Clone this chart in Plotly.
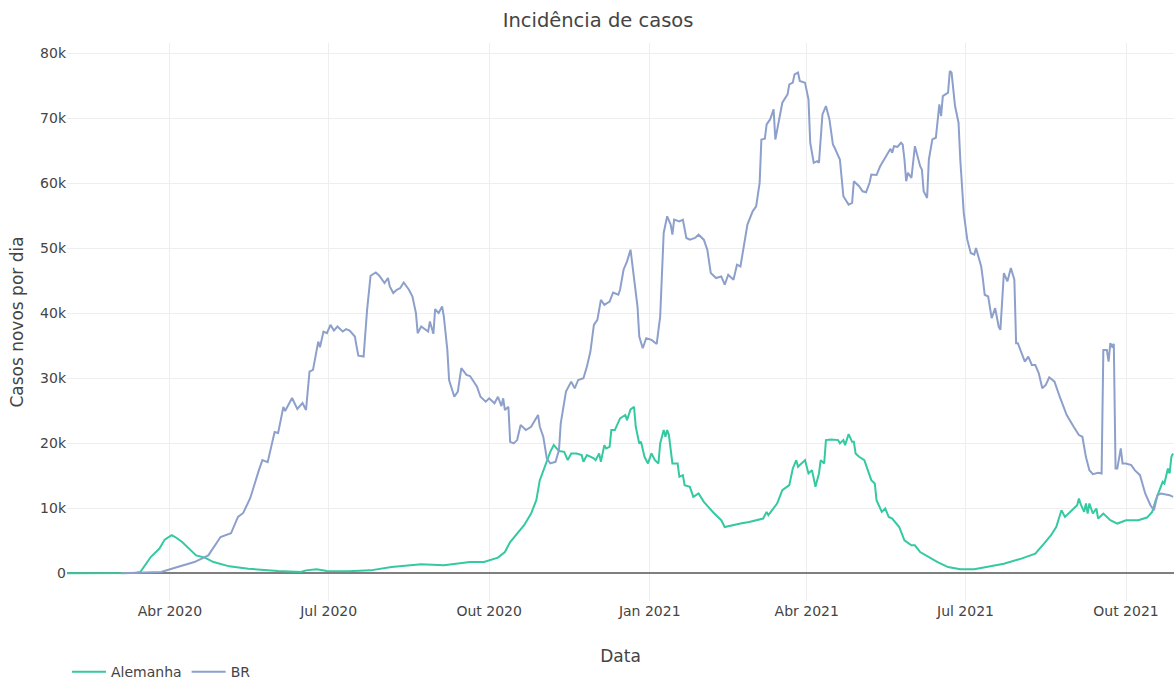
import plotly.graph_objects as go

# ---------------- data ----------------
de_dates = [
    "2020-02-02", "2020-03-12", "2020-03-15", "2020-03-21", "2020-03-26", "2020-03-29",
    "2020-04-02", "2020-04-04", "2020-04-08", "2020-04-12", "2020-04-16", "2020-04-21",
    "2020-04-26", "2020-05-05", "2020-05-16", "2020-06-02", "2020-06-15", "2020-06-18",
    "2020-06-24", "2020-06-30", "2020-07-12", "2020-07-25", "2020-08-06", "2020-08-23",
    "2020-09-05", "2020-09-20", "2020-09-28", "2020-10-06", "2020-10-10", "2020-10-13",
    "2020-10-17", "2020-10-21", "2020-10-25", "2020-10-28", "2020-10-30", "2020-11-01",
    "2020-11-03", "2020-11-05", "2020-11-07", "2020-11-08", "2020-11-10", "2020-11-13",
    "2020-11-15", "2020-11-17", "2020-11-20", "2020-11-23", "2020-11-24", "2020-11-26",
    "2020-11-30", "2020-12-01", "2020-12-03", "2020-12-04", "2020-12-06", "2020-12-07",
    "2020-12-09", "2020-12-10", "2020-12-12", "2020-12-15", "2020-12-18", "2020-12-19",
    "2020-12-21", "2020-12-23", "2020-12-24", "2020-12-26", "2020-12-27", "2020-12-29",
    "2020-12-31", "2021-01-02", "2021-01-04", "2021-01-06", "2021-01-07", "2021-01-09",
    "2021-01-10", "2021-01-11", "2021-01-12", "2021-01-14", "2021-01-17", "2021-01-18",
    "2021-01-20", "2021-01-21", "2021-01-24", "2021-01-26", "2021-01-29", "2021-02-01",
    "2021-02-05", "2021-02-07", "2021-02-11", "2021-02-13", "2021-02-22", "2021-02-27",
    "2021-03-07", "2021-03-09", "2021-03-10", "2021-03-15", "2021-03-18", "2021-03-22",
    "2021-03-24", "2021-03-26", "2021-03-27", "2021-03-31", "2021-04-02", "2021-04-04",
    "2021-04-06", "2021-04-08", "2021-04-09", "2021-04-11", "2021-04-12", "2021-04-15",
    "2021-04-19", "2021-04-20", "2021-04-22", "2021-04-23", "2021-04-25", "2021-04-27",
    "2021-04-28", "2021-04-29", "2021-05-01", "2021-05-04", "2021-05-06", "2021-05-08",
    "2021-05-10", "2021-05-11", "2021-05-14", "2021-05-16", "2021-05-18", "2021-05-20",
    "2021-05-24", "2021-05-27", "2021-05-31", "2021-06-02", "2021-06-05", "2021-06-15",
    "2021-06-21", "2021-06-28", "2021-07-06", "2021-07-23", "2021-08-02", "2021-08-10",
    "2021-08-15", "2021-08-19", "2021-08-22", "2021-08-24", "2021-08-25", "2021-08-27",
    "2021-09-03", "2021-09-04", "2021-09-05", "2021-09-07", "2021-09-08", "2021-09-09",
    "2021-09-10", "2021-09-12", "2021-09-14", "2021-09-15", "2021-09-18", "2021-09-22",
    "2021-09-26", "2021-10-01", "2021-10-08", "2021-10-13", "2021-10-16", "2021-10-18",
    "2021-10-20", "2021-10-22", "2021-10-23", "2021-10-25", "2021-10-26", "2021-10-27",
    "2021-10-28",
]
de_cases = [
    0, 50, 200, 2510, 3810, 5190,
    5860, 5590, 4820, 3810, 2770, 2420,
    1740, 1080, 720, 350, 200, 460,
    620, 350, 310, 460, 970, 1390,
    1230, 1740, 1740, 2420, 3280, 4820,
    6120, 7400, 9200, 11250, 14330, 15870,
    17100, 18690, 19720, 19460, 18800, 18690,
    17410, 18440, 18440, 18180, 17150, 18180,
    17670, 17410, 18440, 17150, 19720, 19210,
    19460, 22030, 22030, 23840, 24350, 23570,
    25220, 25620, 22540, 19980, 20230, 17920,
    16900, 18440, 17410, 16900, 19980, 22030,
    21000, 22030, 21260, 16900, 16900, 14840,
    15100, 13560, 13300, 11760, 12280, 10990,
    9710, 9200, 8170, 7130, 7660, 7900,
    8430, 9450, 8940, 10740, 12790, 13560,
    16130, 17410, 16380, 17410, 15360, 15870,
    13300, 15360, 17410, 16900, 20490, 20600,
    20490, 19980, 20490, 19720, 21420, 20230,
    20230, 18440, 17920, 17410, 15870, 14330,
    13820, 11250, 9450, 9970, 8670, 8430,
    7130, 5080, 4310, 4310, 3280, 1740,
    970, 620, 620, 1490, 2270, 3040,
    4580, 5860, 7130, 8940, 9710, 8670,
    10480, 11510, 10630, 9450, 10740, 9200,
    10740, 9200, 9970, 8430, 9200, 8170,
    7660, 8170, 8170, 8580, 9450, 11250,
    12790, 14070, 13820, 16130, 15360, 17920,
    18440,
]

br_dates = [
    "2020-03-04", "2020-03-27", "2020-04-02", "2020-04-15", "2020-04-23", "2020-04-30",
    "2020-05-06", "2020-05-10", "2020-05-13", "2020-05-17", "2020-05-22", "2020-05-24",
    "2020-05-27", "2020-05-31", "2020-06-02", "2020-06-05", "2020-06-06", "2020-06-10",
    "2020-06-13", "2020-06-16", "2020-06-18", "2020-06-20", "2020-06-22", "2020-06-25",
    "2020-06-26", "2020-06-28", "2020-06-30", "2020-07-02", "2020-07-04", "2020-07-06",
    "2020-07-09", "2020-07-11", "2020-07-13", "2020-07-16", "2020-07-17", "2020-07-18",
    "2020-07-21", "2020-07-23", "2020-07-25", "2020-07-28", "2020-07-30", "2020-08-02",
    "2020-08-04", "2020-08-05", "2020-08-07", "2020-08-09", "2020-08-11", "2020-08-13",
    "2020-08-16", "2020-08-18", "2020-08-20", "2020-08-21", "2020-08-23", "2020-08-27",
    "2020-08-28", "2020-08-30", "2020-08-31", "2020-09-02", "2020-09-04", "2020-09-05",
    "2020-09-07", "2020-09-08", "2020-09-11", "2020-09-13", "2020-09-15", "2020-09-18",
    "2020-09-20", "2020-09-24", "2020-09-26", "2020-09-29", "2020-10-01", "2020-10-04",
    "2020-10-06", "2020-10-08", "2020-10-09", "2020-10-10", "2020-10-12", "2020-10-13",
    "2020-10-15", "2020-10-17", "2020-10-19", "2020-10-22", "2020-10-25", "2020-10-29",
    "2020-10-30", "2020-11-01", "2020-11-03", "2020-11-05", "2020-11-08", "2020-11-10",
    "2020-11-11", "2020-11-14", "2020-11-17", "2020-11-19", "2020-11-21", "2020-11-24",
    "2020-11-26", "2020-11-28", "2020-11-30", "2020-12-02", "2020-12-04", "2020-12-06",
    "2020-12-09", "2020-12-11", "2020-12-14", "2020-12-15", "2020-12-17", "2020-12-19",
    "2020-12-21", "2020-12-23", "2020-12-25", "2020-12-26", "2020-12-28", "2020-12-30",
    "2021-01-02", "2021-01-05", "2021-01-07", "2021-01-09", "2021-01-11", "2021-01-13",
    "2021-01-14", "2021-01-15", "2021-01-18", "2021-01-20", "2021-01-22", "2021-01-24",
    "2021-01-27", "2021-01-29", "2021-02-01", "2021-02-03", "2021-02-05", "2021-02-08",
    "2021-02-11", "2021-02-13", "2021-02-15", "2021-02-18", "2021-02-20", "2021-02-22",
    "2021-02-24", "2021-02-26", "2021-03-01", "2021-03-03", "2021-03-05", "2021-03-06",
    "2021-03-08", "2021-03-09", "2021-03-11", "2021-03-13", "2021-03-14", "2021-03-16",
    "2021-03-18", "2021-03-21", "2021-03-22", "2021-03-24", "2021-03-25", "2021-03-27",
    "2021-03-28", "2021-03-31", "2021-04-02", "2021-04-03", "2021-04-05", "2021-04-07",
    "2021-04-08", "2021-04-10", "2021-04-12", "2021-04-14", "2021-04-16", "2021-04-17",
    "2021-04-19", "2021-04-20", "2021-04-22", "2021-04-25", "2021-04-27", "2021-04-28",
    "2021-05-01", "2021-05-03", "2021-05-05", "2021-05-07", "2021-05-08", "2021-05-11",
    "2021-05-13", "2021-05-16", "2021-05-19", "2021-05-20", "2021-05-21", "2021-05-23",
    "2021-05-25", "2021-05-26", "2021-05-27", "2021-05-28", "2021-05-29", "2021-05-31",
    "2021-06-02", "2021-06-05", "2021-06-06", "2021-06-07", "2021-06-09", "2021-06-10",
    "2021-06-12", "2021-06-14", "2021-06-16", "2021-06-17", "2021-06-18", "2021-06-21",
    "2021-06-22", "2021-06-23", "2021-06-25", "2021-06-27", "2021-06-28", "2021-06-30",
    "2021-07-02", "2021-07-04", "2021-07-06", "2021-07-07", "2021-07-10", "2021-07-11",
    "2021-07-12", "2021-07-14", "2021-07-16", "2021-07-18", "2021-07-20", "2021-07-21",
    "2021-07-23", "2021-07-25", "2021-07-27", "2021-07-29", "2021-07-30", "2021-07-31",
    "2021-08-02", "2021-08-04", "2021-08-06", "2021-08-08", "2021-08-10", "2021-08-12",
    "2021-08-14", "2021-08-16", "2021-08-18", "2021-08-21", "2021-08-24", "2021-08-28",
    "2021-09-01", "2021-09-04", "2021-09-06", "2021-09-08", "2021-09-10", "2021-09-12",
    "2021-09-15", "2021-09-17", "2021-09-18", "2021-09-20", "2021-09-21", "2021-09-22",
    "2021-09-23", "2021-09-24", "2021-09-25", "2021-09-26", "2021-09-28", "2021-09-29",
    "2021-10-01", "2021-10-04", "2021-10-06", "2021-10-09", "2021-10-12", "2021-10-15",
    "2021-10-17", "2021-10-19", "2021-10-21", "2021-10-23", "2021-10-26", "2021-10-28",
]
br_cases = [
    0, 200, 720, 1740, 2770, 5590,
    6160, 8670, 9290, 11560, 15870, 17410,
    17100, 21730, 21570, 25580, 24960, 26960,
    25270, 26190, 25120, 31020, 31280, 35640,
    34780, 37180, 36930, 38210, 37330, 37950,
    37180, 37550, 37330, 36410, 34870, 33480,
    33330, 40520, 45760, 46270, 45760, 44640,
    45410, 44110, 43100, 43610, 43870, 44730,
    43610, 42570, 40020, 36930, 37950, 37180,
    38720, 36830, 40630, 40020, 41030, 39490,
    34360, 29740, 27160, 27940, 31540, 30510,
    30350, 28710, 27160, 26390, 26920, 26150,
    27160, 25730, 26920, 25120, 25620, 20230,
    19980, 20490, 22800, 22030, 22540, 24350,
    22540, 21000, 17670, 16900, 17150, 18950,
    23070, 27940, 29480, 28460, 29740, 30000,
    31790, 34100, 38210, 38980, 42060, 41290,
    41800, 43190, 42840, 43610, 46690, 47970,
    49770, 45650, 41030, 36410, 34620, 36160,
    35900, 35280, 39490, 52340, 54900, 53620,
    52080, 54390, 54130, 54390, 51570, 51310,
    51570, 52080, 51310, 49770, 46180, 45410,
    45650, 44380, 45920, 45150, 47460, 47200,
    50280, 53620, 55670, 56440, 60050, 66720,
    66830, 69030, 69800, 71340, 66720, 69290,
    72370, 73650, 75190, 75450, 76730, 77000,
    75700, 75450, 72880, 66210, 63130, 63380,
    63130, 70570, 71850, 69800, 65950, 65440,
    64140, 63640, 57980, 56700, 56960, 60290,
    59520, 58750, 58600, 60050, 61330, 61250,
    62560, 63900, 65280, 64670, 65690, 65590,
    66210, 65950, 63640, 60290, 61590, 60820,
    65690, 62600, 62100, 58750, 57730, 63640,
    66720, 66980, 72110, 70310, 73390, 73910,
    77240, 77000, 71850, 69290, 63640, 55420,
    51310, 49260, 49000, 50030, 47200, 45150,
    42840, 42570, 39240, 40790, 37950, 37440,
    46180, 44880, 46950, 45150, 35390, 35390,
    33850, 32560, 33330, 32050, 32050, 30770,
    28460, 28970, 30150, 29480, 27160, 24350,
    22540, 21260, 21000, 17920, 15870, 15250,
    15450, 15360, 34360, 34360, 32560, 35390,
    34870, 35280, 16130, 16130, 19210, 16900,
    16900, 16640, 15870, 15100, 12280, 10480,
    9710, 12020, 12280, 12170, 12020, 11760,
]

x_tick_vals = ["2020-04-01", "2020-07-01", "2020-10-01", "2021-01-01", "2021-04-01", "2021-07-01", "2021-10-01"]
x_tick_text = ["Abr 2020", "Jul 2020", "Out 2020", "Jan 2021", "Abr 2021", "Jul 2021", "Out 2021"]
x_range = ["2020-02-02", "2021-10-28 12:00"]
y_range = [-4250, 81550]

FONT = "DejaVu Sans, Verdana, sans-serif"

# ---------------- figure ----------------
fig = go.Figure()
fig.add_trace(go.Scatter(x=de_dates, y=de_cases, mode="lines", name="Alemanha",
                         line=dict(color="#34c9a0", width=2)))
fig.add_trace(go.Scatter(x=br_dates, y=br_cases, mode="lines", name="BR",
                         line=dict(color="#8da0cb", width=2)))

fig.update_layout(
    template="none",
    width=1174, height=679,
    paper_bgcolor="white", plot_bgcolor="white",
    font=dict(family=FONT, size=14, color="#444"),
    title=dict(text="Incidência de casos", x=0.5094, xref="container", xanchor="center",
               y=0.9705, yref="container", yanchor="middle",
               font=dict(family=FONT, size=19.5, color="#444")),
    margin=dict(l=67, r=0, t=43, b=78, autoexpand=False),
    showlegend=True,
    legend=dict(orientation="h", x=0, xanchor="left", y=-0.099, yanchor="top",
                itemwidth=34,
                font=dict(family=FONT, size=14, color="#444")),
    xaxis=dict(
        title=dict(text="Data", font=dict(family=FONT, size=17, color="#444")),
        range=x_range, tickvals=x_tick_vals, ticktext=x_tick_text,
        showgrid=True, gridcolor="#eeeeee", gridwidth=1,
        zeroline=False, showline=False, ticks="",
    ),
    yaxis=dict(
        title=dict(text="Casos novos por dia", font=dict(family=FONT, size=17, color="#444")),
        range=y_range, dtick=10000, tick0=0,
        showgrid=True, gridcolor="#eeeeee", gridwidth=1,
        zeroline=True, zerolinecolor="#7f7f7f", zerolinewidth=1.5,
        showline=False, ticks="",
    ),
)

# remove the browser's default 8px page margin so the figure fills the window exactly
fig.write_html(
    "out.html",
    config={"displayModeBar": False},
    post_script="document.body.style.margin='0';document.body.style.overflow='hidden';",
)
